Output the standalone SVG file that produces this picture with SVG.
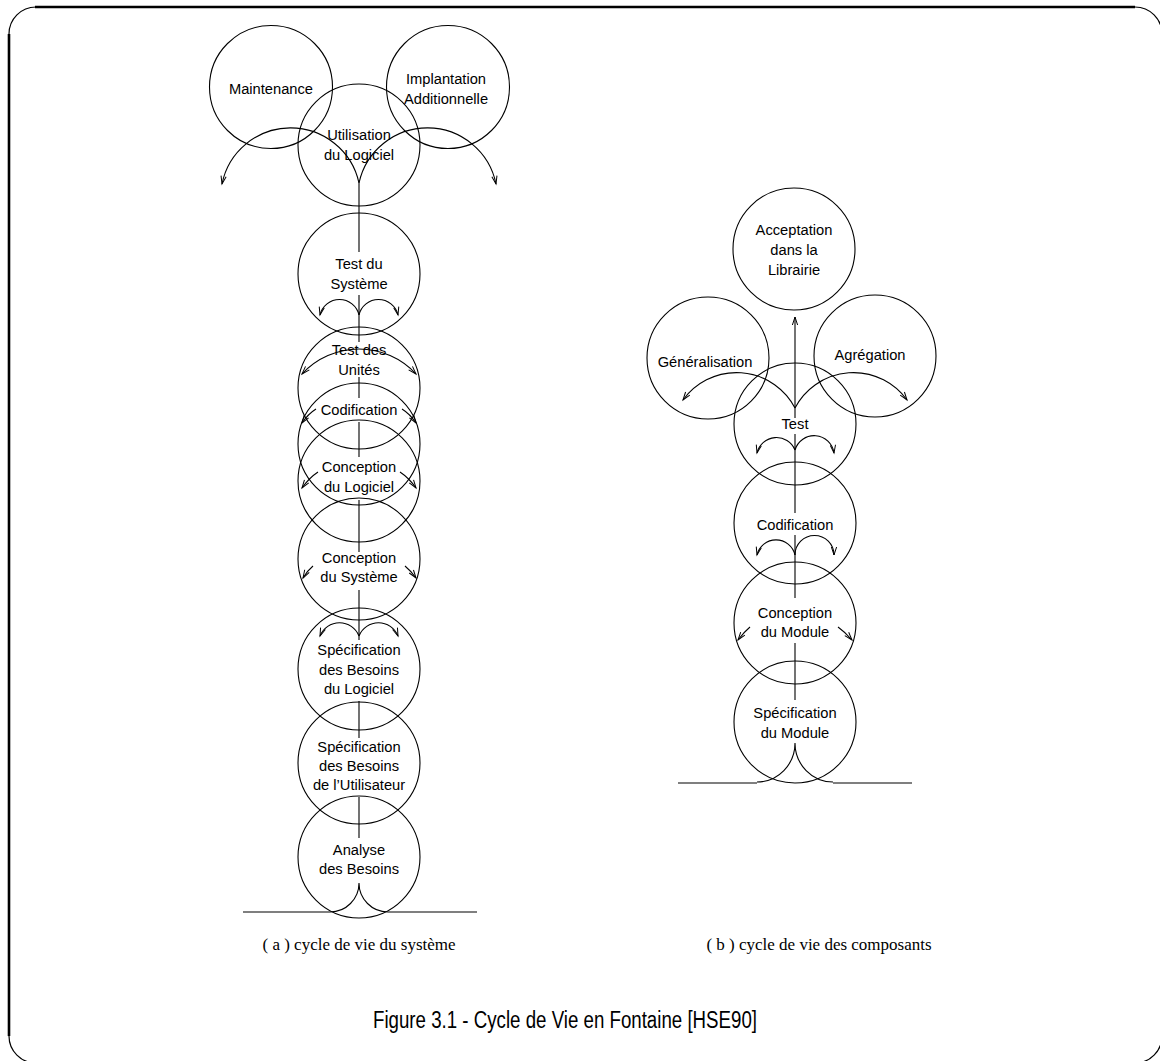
<svg xmlns="http://www.w3.org/2000/svg" width="1160" height="1061" viewBox="0 0 1160 1061">
<style>
.c{fill:none;stroke:#000;stroke-width:1.1}
.l{fill:none;stroke:#000;stroke-width:1.1}
.a{fill:none;stroke:#000;stroke-width:1.1;marker-end:url(#ah)}
.t{font-family:"Liberation Sans",Arial,Helvetica,sans-serif;font-size:14.7px;text-anchor:middle;fill:#000}
.cap{font-family:"Liberation Serif","Times New Roman",serif;font-size:17px;text-anchor:middle;fill:#000}
.fig{font-family:"Liberation Sans",Arial,Helvetica,sans-serif;font-size:23px;text-anchor:middle;fill:#000}
.fr{fill:none;stroke:#000;stroke-width:2.6}
.fc{fill:none;stroke:#000;stroke-width:1.2}
</style>
<defs>
<marker id="ah" viewBox="-10 -5 12 10" refX="0" refY="0" markerWidth="12" markerHeight="10" markerUnits="userSpaceOnUse" orient="auto">
<path d="M-8,-2.6 L0,0 L-8,2.6" fill="none" stroke="#000" stroke-width="1"/>
</marker>
</defs>
<rect width="1160" height="1061" fill="#fff"/>
<g id="frame">
<path class="fr" d="M35,7 H1135 M9,34 V1036 M1162,34 V1036 M36,1063 H1135"/>
<path class="fc" d="M9,34 A27,27 0 0 1 36,7 M1135,7 A27,27 0 0 1 1162,34 M1162,1036 A27,27 0 0 1 1135,1063 M36,1063 A27,27 0 0 1 9,1036"/>
</g>
<g id="connectors">
<path class="l" d="M359,183 V252 M359,295 V342 M359,377 V398 M359,422 V457 M359,500 V552 M359,590 V640 M359,701 V738 M359,797 V838"/>
<path class="a" d="M359,183 A70,70 0 0 0 222,184"/>
<path class="a" d="M359,183 A70,70 0 0 1 496,184"/>
<path class="a" d="M359,315 A20,20 0 0 0 320,315"/>
<path class="a" d="M359,315 A20,20 0 0 1 398,315"/>
<path class="a" d="M359,349 A78,78 0 0 0 302,374"/>
<path class="a" d="M359,349 A78,78 0 0 1 416,374"/>
<path class="a" d="M316,409 Q308,414 302,423"/>
<path class="a" d="M402,409 Q410,414 416,423"/>
<path class="a" d="M318,472 Q309,478 302,488"/>
<path class="a" d="M400,472 Q409,478 416,488"/>
<path class="a" d="M313,566 Q307,571 303,578"/>
<path class="a" d="M405,566 Q411,571 416,578"/>
<path class="a" d="M359,636 A21,21 0 0 0 320,636"/>
<path class="a" d="M359,636 A21,21 0 0 1 398,636"/>
<path class="l" d="M359,883 A29,29 0 0 1 330,912 M359,883 A29,29 0 0 0 388,912"/>
<path class="l" d="M243,912 H330 M388,912 H477"/>
<path class="a" d="M795,408 V317"/>
<path class="l" d="M795,408 V418 M795,434 V513 M795,535 V598 M795,643 V700"/>
<path class="a" d="M795,408 A66,66 0 0 0 683,400"/>
<path class="a" d="M795,408 A66,66 0 0 1 907,400"/>
<path class="a" d="M795,450 A20,20 0 0 0 757,453"/>
<path class="a" d="M795,450 A20,20 0 0 1 834,453"/>
<path class="a" d="M795,555 A19.5,19.5 0 0 0 757,555"/>
<path class="a" d="M795,555 A19.5,19.5 0 0 1 834,555"/>
<path class="a" d="M750,627 Q744,632 738,640"/>
<path class="a" d="M838,627 Q845,632 852,640"/>
<path class="l" d="M795,743 A38,39 0 0 1 757,782 M795,743 A38,39 0 0 0 833,782"/>
<path class="l" d="M678,783 H757 M833,783 H912"/>
</g>
<g id="maintenance"><circle class="c" cx="271" cy="87" r="61.5"/><text class="t" x="271" y="94">Maintenance</text></g>
<g id="implantation"><circle class="c" cx="448" cy="87" r="61.5"/><text class="t" x="446" y="84">Implantation</text><text class="t" x="446" y="104">Additionnelle</text></g>
<g id="utilisation"><circle class="c" cx="359" cy="145" r="61"/><text class="t" x="359" y="140">Utilisation</text><text class="t" x="359" y="160">du Logiciel</text></g>
<g id="test-systeme"><circle class="c" cx="359" cy="274" r="61"/><text class="t" x="359" y="269">Test du</text><text class="t" x="359" y="289">Système</text></g>
<g id="test-unites"><circle class="c" cx="359" cy="388" r="61"/><text class="t" x="359" y="355">Test des</text><text class="t" x="359" y="375">Unités</text></g>
<g id="codification"><circle class="c" cx="359" cy="444" r="61"/><text class="t" x="359" y="415">Codification</text></g>
<g id="conception-logiciel"><circle class="c" cx="359" cy="481" r="61"/><text class="t" x="359" y="472">Conception</text><text class="t" x="359" y="492">du Logiciel</text></g>
<g id="conception-systeme"><circle class="c" cx="359" cy="559" r="61"/><text class="t" x="359" y="563">Conception</text><text class="t" x="359" y="582">du Système</text></g>
<g id="spec-logiciel"><circle class="c" cx="359" cy="669" r="61"/><text class="t" x="359" y="655">Spécification</text><text class="t" x="359" y="675">des Besoins</text><text class="t" x="359" y="694">du Logiciel</text></g>
<g id="spec-utilisateur"><circle class="c" cx="359" cy="763" r="61"/><text class="t" x="359" y="752">Spécification</text><text class="t" x="359" y="771">des Besoins</text><text class="t" x="359" y="790">de l’Utilisateur</text></g>
<g id="analyse"><circle class="c" cx="359" cy="857" r="61"/><text class="t" x="359" y="855">Analyse</text><text class="t" x="359" y="874">des Besoins</text></g>
<g id="acceptation"><circle class="c" cx="794" cy="249" r="61"/><text class="t" x="794" y="235">Acceptation</text><text class="t" x="794" y="255">dans la</text><text class="t" x="794" y="275">Librairie</text></g>
<g id="generalisation"><circle class="c" cx="708" cy="358" r="61"/><text class="t" x="705" y="367">Généralisation</text></g>
<g id="agregation"><circle class="c" cx="875" cy="356" r="61"/><text class="t" x="870" y="360">Agrégation</text></g>
<g id="test"><circle class="c" cx="795" cy="424" r="61"/><text class="t" x="795" y="429">Test</text></g>
<g id="codification-b"><circle class="c" cx="795" cy="523" r="61"/><text class="t" x="795" y="530">Codification</text></g>
<g id="conception-module"><circle class="c" cx="795" cy="623" r="61"/><text class="t" x="795" y="618">Conception</text><text class="t" x="795" y="637">du Module</text></g>
<g id="spec-module"><circle class="c" cx="795" cy="722" r="61"/><text class="t" x="795" y="718">Spécification</text><text class="t" x="795" y="738">du Module</text></g>
<g id="captions">
<text class="cap" x="359" y="950">( a ) cycle de vie du système</text>
<text class="cap" x="819" y="950">( b ) cycle de vie des composants</text>
<text class="fig" x="565" y="1028" textLength="384" lengthAdjust="spacingAndGlyphs">Figure 3.1 - Cycle de Vie en Fontaine [HSE90]</text>
</g>
</svg>
